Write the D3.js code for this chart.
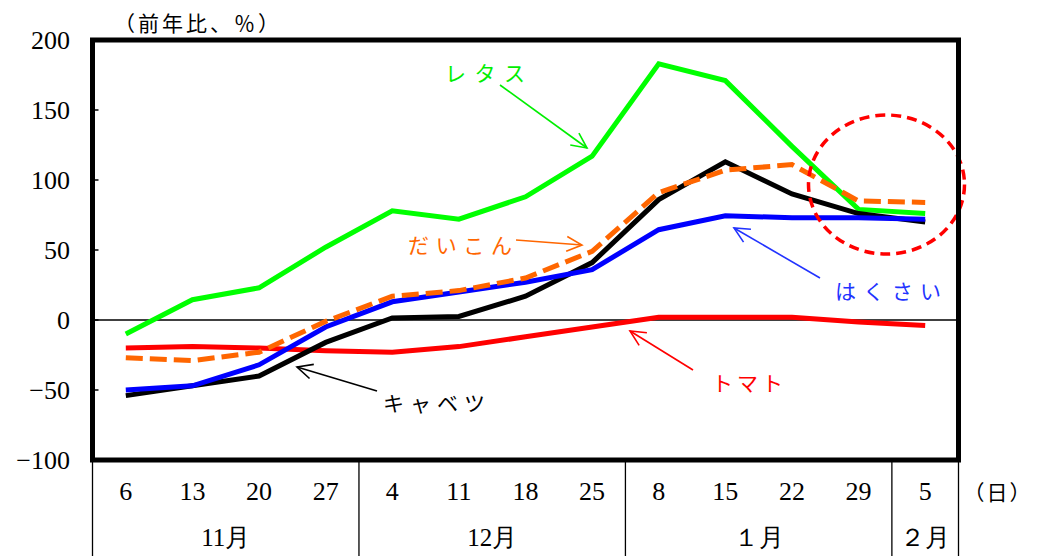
<!DOCTYPE html>
<html><head><meta charset="utf-8">
<script src="https://cdn.jsdelivr.net/npm/d3@7"></script>
<style>
html,body{margin:0;padding:0;background:#fff;}
svg{display:block;}
</style></head>
<body>
<svg id="c" width="1043" height="556"></svg>
<script>
// ---- data ----
const days = ["6","13","20","27","4","11","18","25","8","15","22","29","5"];
const months = [
  {label:"11月", from:0, to:3},
  {label:"12月", from:4, to:7},
  {label:"１月", from:8, to:11},
  {label:"２月", from:12, to:12}
];
const yTicks = [200,150,100,50,0,-50,-100];
const lettuce  = [-10, 14.5, 23, 52, 78, 72, 88, 117, 183, 171, 124, 79, 76];
const cabbage  = [-54, -47, -40, -16, 1.5, 2.5, 17, 41, 86, 113, 90, 76, 70];
const hakusai  = [-50, -47, -32, -5, 13, 20, 27, 36, 64.5, 74.5, 73, 73, 72];
const daikon   = [-27, -29, -23, -1, 17, 21, 30, 49, 91, 107, 111, 85, 84];
const tomato   = [-20, -19, -20, -22, -23, -19, -12, -5, 2, 2, 2, -1.5, -4];

const series = [
  {name:"トマト", values:tomato, color:"#ff0000", dash:null},
  {name:"レタス", values:lettuce, color:"#00ff00", dash:null},
  {name:"キャベツ", values:cabbage, color:"#000000", dash:null},
  {name:"はくさい", values:hakusai, color:"#0000ff", dash:null},
  {name:"だいこん", values:daikon, color:"#ff6600", dash:"17,7"}
];

// annotations: label, color, text box, arrow from/to
const notes = [
  {text:"レタス", color:"#00ee00", x:445, y:72, w:80, from:[500,85], to:[587,148]},
  {text:"だいこん", color:"#ff6600", x:408, y:244, w:104, from:[516,240], to:[582,245]},
  {text:"はくさい", color:"#2233ff", x:835, y:290, w:106, from:[820,278], to:[734,228]},
  {text:"キャベツ", color:"#000000", x:383, y:402, w:102, from:[377,391], to:[297,367]},
  {text:"トマト", color:"#ff0000", x:712, y:382, w:71, from:[693,370], to:[630,331]}
];

const svg = d3.select("#c");
const L = 92.5, R = 958.5, T = 40, B = 460;
const x = d3.scaleBand().domain(days).range([L, R]).padding(0);
const y = d3.scaleLinear().domain([-100, 200]).range([B, T]);
const cx = d => x(d) + x.bandwidth()/2;

const numFont = "'Liberation Serif', 'DejaVu Serif', serif";
const jpFont = "'Noto Sans CJK JP', sans-serif";

// y axis labels
svg.append("g").selectAll("text").data(yTicks).join("text")
  .attr("x", 70).attr("y", d => y(d))
  .attr("text-anchor","end").attr("dominant-baseline","central")
  .attr("font-family", numFont).attr("font-size", 26).attr("fill","#000")
  .text(d => d < 0 ? "\u2212" + Math.abs(d) : d);

// y tick marks (inside)
svg.append("g").selectAll("line").data(yTicks).join("line")
  .attr("x1", L).attr("x2", L+6).attr("y1", d => y(d)).attr("y2", d => y(d))
  .attr("stroke","#000").attr("stroke-width",1.5);

// zero line
svg.append("line").attr("x1",L).attr("x2",R).attr("y1",y(0)).attr("y2",y(0))
  .attr("stroke","#000").attr("stroke-width",1.5);

// unit label
svg.append("text").attr("x",114).attr("y",22).attr("dominant-baseline","central")
  .attr("font-family", jpFont).attr("font-size", 21).attr("letter-spacing", 3)
  .text("（前年比、％）");

// lines
const line = d3.line().x((v,i) => cx(days[i])).y(v => y(v));
series.forEach(s => {
  svg.append("path").attr("d", line(s.values)).attr("fill","none")
    .attr("stroke", s.color).attr("stroke-width", 5)
    .attr("stroke-linejoin","miter").attr("stroke-dasharray", s.dash);
});

// dashed red ellipse highlight
svg.append("ellipse").attr("cx", 886.5).attr("cy", 184.5).attr("rx", 78).attr("ry", 69.5)
  .attr("fill","none").attr("stroke","#ff0000").attr("stroke-width",3.5)
  .attr("stroke-dasharray","10,6");

// frame
svg.append("rect").attr("x",L).attr("y",T).attr("width",R-L).attr("height",B-T)
  .attr("fill","none").attr("stroke","#000").attr("stroke-width",5);

// x category table lines
const seps = [0,4,8,12,13].map(i => i < days.length ? x(days[i]) : R);
svg.append("g").selectAll("line").data(seps).join("line")
  .attr("x1", d => d).attr("x2", d => d).attr("y1", B).attr("y2", 556)
  .attr("stroke","#000").attr("stroke-width",1.3);

// day labels
svg.append("g").selectAll("text").data(days).join("text")
  .attr("x", d => cx(d)).attr("y", 491).attr("text-anchor","middle")
  .attr("dominant-baseline","central")
  .attr("font-family", numFont).attr("font-size", 26).text(d => d);
svg.append("text").attr("x", 998).attr("y", 491).attr("text-anchor","middle")
  .attr("dominant-baseline","central").attr("letter-spacing", 2)
  .attr("font-family", jpFont).attr("font-size", 21).text("（日）");

// month labels
svg.append("g").selectAll("text").data(months).join("text")
  .attr("x", m => (x(days[m.from]) + x(days[m.to]) + x.bandwidth())/2)
  .attr("y", 537).attr("text-anchor","middle").attr("dominant-baseline","central")
  .attr("font-family", numFont).attr("font-size", 25).text(m => m.label);

// annotations
notes.forEach(n => {
  svg.append("text").attr("x", n.x).attr("y", n.y).attr("dominant-baseline","central")
    .attr("textLength", n.w).attr("lengthAdjust","spacing")
    .attr("font-family", jpFont).attr("font-size", 21)
    .attr("fill", n.color).text(n.text);
  svg.append("line").attr("x1", n.from[0]).attr("y1", n.from[1]).attr("x2", n.to[0]).attr("y2", n.to[1])
    .attr("stroke", n.color).attr("stroke-width", 1.6);
  const ang = Math.atan2(n.to[1]-n.from[1], n.to[0]-n.from[0]);
  const len = 17, spread = Math.PI/7;
  const p1 = [n.to[0] - len*Math.cos(ang - spread), n.to[1] - len*Math.sin(ang - spread)];
  const p2 = [n.to[0] - len*Math.cos(ang + spread), n.to[1] - len*Math.sin(ang + spread)];
  svg.append("path").attr("d", d3.line()([p1, n.to, p2])).attr("fill","none")
    .attr("stroke", n.color).attr("stroke-width", 1.6);
});
</script>
</body></html>
